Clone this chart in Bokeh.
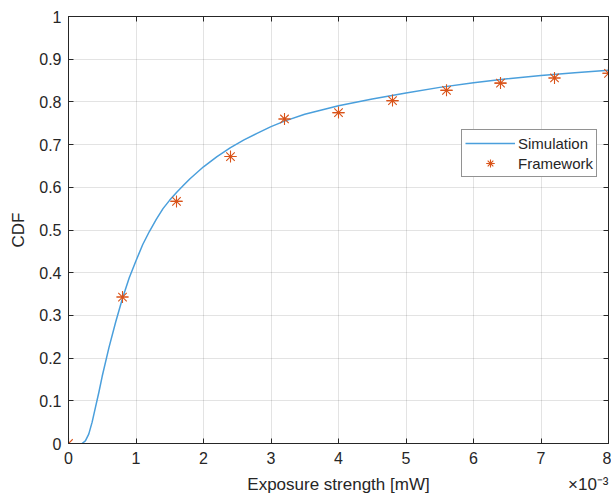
from bokeh.plotting import figure
from bokeh.models import (Range1d, FixedTicker, LinearAxis, Legend, LegendItem)
from bokeh.embed import file_html
from bokeh.resources import INLINE

# Data (x in units of 1e-3 mW)
sim_x = [0.20, 0.25, 0.30, 0.35, 0.40, 0.45, 0.50, 0.60, 0.70, 0.80, 0.90, 1.00,
         1.10, 1.20, 1.30, 1.40, 1.50, 1.60, 1.70, 1.80, 2.00, 2.20, 2.40, 2.60,
         2.80, 3.00, 3.20, 3.50, 4.00, 4.50, 5.00, 5.50, 6.00, 6.50, 7.00, 7.50, 8.00]
sim_y = [0.000, 0.006, 0.022, 0.050, 0.085, 0.120, 0.158, 0.225, 0.285, 0.340, 0.388, 0.428,
         0.466, 0.497, 0.525, 0.550, 0.570, 0.588, 0.604, 0.620, 0.648, 0.672, 0.693, 0.711,
         0.727, 0.742, 0.755, 0.771, 0.791, 0.807, 0.821, 0.834, 0.845, 0.854, 0.862, 0.868, 0.874]

fw_x = [0.0, 0.8, 1.6, 2.4, 3.2, 4.0, 4.8, 5.6, 6.4, 7.2, 8.0]
fw_y = [0.000, 0.343, 0.567, 0.672, 0.760, 0.775, 0.803, 0.827, 0.844, 0.856, 0.867]

x_ticks = [0, 1, 2, 3, 4, 5, 6, 7, 8]
y_ticks = [0, 0.1, 0.2, 0.3, 0.4, 0.5, 0.6, 0.7, 0.8, 0.9, 1]
y_tick_labels = ["0", "0.1", "0.2", "0.3", "0.4", "0.5", "0.6", "0.7", "0.8", "0.9", "1"]

x_title = "Exposure strength [mW]"
x_exponent = "×10⁻³"

FONT = "Liberation Sans"
AX = "#262626"
BLUE = "#4a9fdc"
ORANGE = "#D95319"

p = figure(width=611, height=497, output_backend="svg", toolbar_location=None,
           x_range=Range1d(0, 8), y_range=Range1d(0, 1),
           min_border_left=68, min_border_right=3, min_border_top=16, min_border_bottom=54)

p.outline_line_color = AX
p.outline_line_width = 1
p.outline_line_alpha = 1

for ax in (p.xaxis[0], p.yaxis[0]):
    ax.axis_line_color = AX
    ax.major_tick_line_color = AX
    ax.major_tick_in = 5
    ax.major_tick_out = 0
    ax.minor_tick_line_color = None
    ax.major_label_text_font = FONT
    ax.major_label_text_font_size = "16px"
    ax.major_label_text_color = AX
    ax.axis_label_text_font = FONT
    ax.axis_label_text_font_size = "17px"
    ax.axis_label_text_font_style = "normal"
    ax.axis_label_text_color = AX

p.xaxis[0].ticker = FixedTicker(ticks=x_ticks)
p.yaxis[0].ticker = FixedTicker(ticks=y_ticks)
p.yaxis[0].major_label_overrides = {t: l for t, l in zip(y_ticks, y_tick_labels)}
p.yaxis[0].axis_label = "CDF"
p.xaxis[0].major_label_standoff = 8
p.yaxis[0].major_label_standoff = 7
p.yaxis[0].axis_label_standoff = 8

# second row under the x axis: axis title centred, exponent at the right end
x_title_pos = (x_ticks[0] + x_ticks[-1]) / 2
x_exp_pos = 7.70
title_axis = LinearAxis(ticker=FixedTicker(ticks=[x_title_pos, x_exp_pos]),
                        major_label_overrides={x_title_pos: x_title, x_exp_pos: x_exponent},
                        axis_line_color=None, major_tick_line_color=None,
                        minor_tick_line_color=None, major_label_standoff=2,
                        major_label_text_font=FONT, major_label_text_font_size="17px",
                        major_label_text_color=AX)
p.add_layout(title_axis, "below")

p.xgrid.ticker = FixedTicker(ticks=x_ticks)
p.ygrid.ticker = FixedTicker(ticks=y_ticks)
for g in (p.xgrid[0], p.ygrid[0]):
    g.grid_line_color = AX
    g.grid_line_alpha = 0.13
    g.grid_line_width = 1

# ticks on top and right (box style)
top = LinearAxis(ticker=FixedTicker(ticks=x_ticks), major_label_text_font_size="0px",
                 major_tick_in=5, major_tick_out=0, minor_tick_line_color=None,
                 axis_line_color=AX, major_tick_line_color=AX, major_label_standoff=0)
right = LinearAxis(ticker=FixedTicker(ticks=y_ticks), major_label_text_font_size="0px",
                   major_tick_in=5, major_tick_out=0, minor_tick_line_color=None,
                   axis_line_color=AX, major_tick_line_color=AX, major_label_standoff=0)
top.major_label_overrides = {t: "" for t in x_ticks}
right.major_label_overrides = {t: "" for t in y_ticks}
p.add_layout(top, "above")
p.add_layout(right, "right")

r_sim = p.line(sim_x, sim_y, line_color=BLUE, line_width=1.5)
r_fw1 = p.scatter(fw_x, fw_y, marker="asterisk", size=12, line_color=ORANGE, line_width=1.1)
r_fw2 = p.scatter(fw_x, fw_y, marker="dash", size=12, line_color=ORANGE, line_width=1.1)

legend = Legend(items=[LegendItem(label="Simulation", renderers=[r_sim]),
                       LegendItem(label="Framework", renderers=[r_fw1, r_fw2])],
                location=(393, 266), margin=0, padding=3, spacing=0,
                glyph_width=50, glyph_height=20, label_height=20, label_standoff=3,
                label_text_font=FONT, label_text_font_size="15px", label_text_color=AX,
                border_line_color=AX, border_line_width=1, background_fill_color="white",
                background_fill_alpha=1)
p.add_layout(legend, "center")

open("out.html", "w").write(file_html(p, INLINE))
